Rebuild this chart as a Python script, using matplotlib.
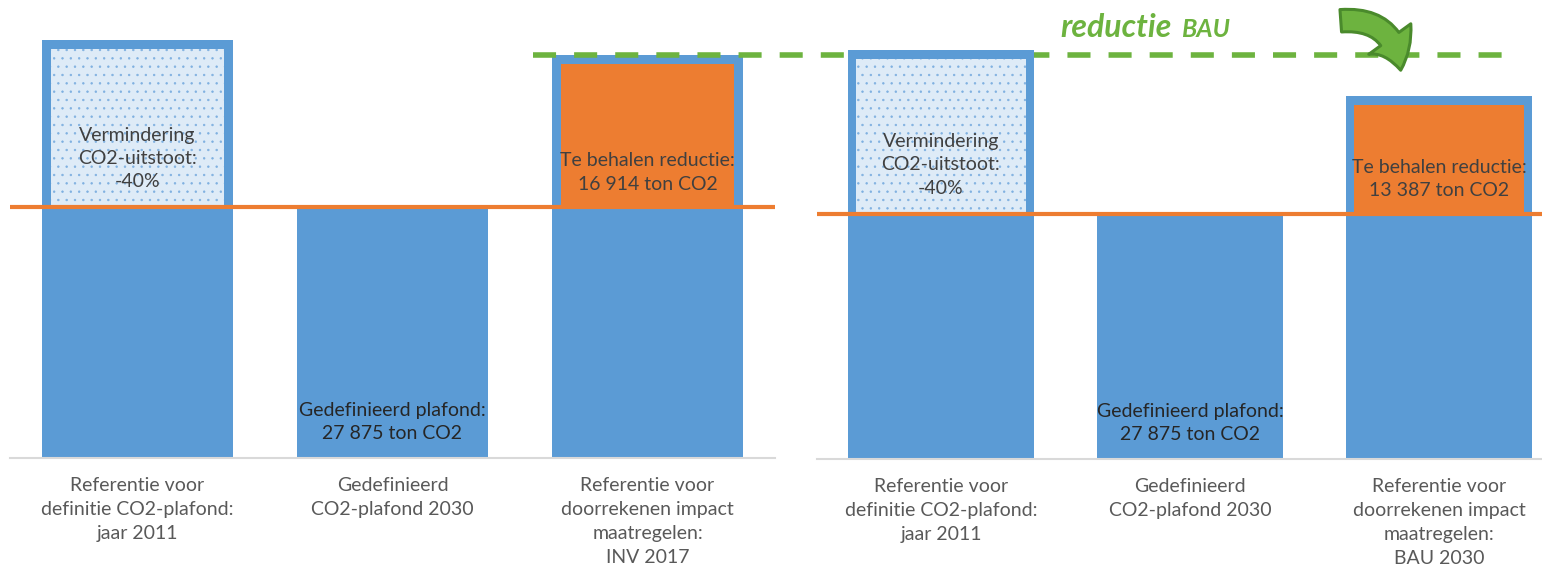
import matplotlib.pyplot as plt
from matplotlib.patches import FancyArrowPatch

# emissions in ton CO2
plafond = 27875
reductie_inv = 16914
reductie_bau = 13387
ref_2011 = plafond / 0.6          # plafond = -40% t.o.v. 2011
inv_2017 = plafond + reductie_inv
bau_2030 = plafond + reductie_bau

labels_inv = ['Referentie voor\ndefinitie CO2-plafond:\njaar 2011',
              'Gedefinieerd\nCO2-plafond 2030',
              'Referentie voor\ndoorrekenen impact\nmaatregelen:\nINV 2017']
labels_bau = ['Referentie voor\ndefinitie CO2-plafond:\njaar 2011',
              'Gedefinieerd\nCO2-plafond 2030',
              'Referentie voor\ndoorrekenen impact\nmaatregelen:\nBAU 2030']
totals_inv = [ref_2011, plafond, inv_2017]
totals_bau = [ref_2011, plafond, bau_2030]

blue = '#5B9BD5'
orange = '#ED7D31'
light = '#DEEBF7'
green = '#6DB33F'
dkgreen = '#4A8A2C'

plt.rcParams['font.family'] = ['Lato', 'DejaVu Sans']
plt.rcParams['hatch.linewidth'] = 0.5

W, H = 1542, 569
fig = plt.figure(figsize=(W / 100, H / 100), dpi=100)

ax1 = fig.add_axes([10 / W, 111 / H, 765 / W, 458 / H])
ax2 = fig.add_axes([816.5 / W, 110 / H, 747 / W, 459 / H])


def panel(ax, totals, labels, ymax, fill_colors, fill_hatches, red_text):
    x = range(len(totals))
    ax.set_ylim(0, ymax)
    ax.set_xlim(-0.5, 2.5)
    bw = 0.75
    # lower part: the plafond
    ax.bar(x, [plafond] * 3, width=bw, color=blue, zorder=2)
    # upper part: the reduction, blue frame with inner fill
    ax_h = ax.get_position().height * H
    inset_y = 9 * ymax / ax_h
    for i, tot in enumerate(totals):
        if tot <= plafond:
            continue
        ax.bar(i, tot - plafond, bottom=plafond, width=bw, color=blue, zorder=2)
        ax.bar(i, tot - plafond - inset_y, bottom=plafond, width=bw - 0.07,
               facecolor=fill_colors[i], edgecolor='#7FB0E0', linewidth=0,
               hatch=fill_hatches[i], zorder=3)
    ax.axhline(plafond, color=orange, lw=3, zorder=4)

    txt = dict(ha='center', va='center', fontsize=14, linespacing=1.45,
               textcoords='offset points', zorder=5)
    ax.annotate('Vermindering\nCO2-uitstoot:\n-40%', xy=(0, plafond),
                xytext=(0, 35), color='#404040', **txt)
    ax.annotate(red_text, xy=(2, plafond), xytext=(0, 25),
                color='#404040', **txt)
    ax.annotate('Gedefinieerd plafond:\n27 875 ton CO2', xy=(1, 0),
                xytext=(0, 26), color='#262626', **txt)

    ax.set_xticks(list(x))
    ax.set_xticklabels(labels, fontsize=14, color='#595959', linespacing=1.5)
    ax.tick_params(axis='x', length=0, pad=14)
    ax.set_yticks([])
    for s in ['top', 'left', 'right']:
        ax.spines[s].set_visible(False)
    ax.spines['bottom'].set_color('#D9D9D9')
    ax.spines['bottom'].set_linewidth(1.5)
    ax.patch.set_alpha(0)


panel(ax1, totals_inv, labels_inv, ref_2011 * 458 / 418,
      [light, blue, orange], ['..', None, None],
      'Te behalen reductie:\n16 914 ton CO2')
panel(ax2, totals_bau, labels_bau, ref_2011 * 459 / 409,
      [light, blue, orange], ['..', None, None],
      'Te behalen reductie:\n13 387 ton CO2')

# INV 2017 level carried over to the right panel
lw = 4
ax1.plot([1.55, 5.40], [inv_2017, inv_2017], color=green, lw=lw,
         linestyle=(0, (16.6 / lw, 13 / lw)), clip_on=False, zorder=6)

t = fig.text(1060 / W, 1 - 37 / H, 'reductie', color=green, fontsize=23,
             fontweight='bold', fontstyle='italic', ha='left', va='baseline')
ax1.annotate('BAU', xy=(1, 0), xycoords=t, xytext=(7, 1),
             textcoords='offset points', color=green, fontsize=18,
             fontweight='bold', fontstyle='italic', ha='left', va='bottom',
             annotation_clip=False)

arrow = FancyArrowPatch((1338 / W, 1 - 21 / H), (1401 / W, 1 - 73 / H),
                        transform=fig.transFigure,
                        connectionstyle='arc3,rad=-0.5',
                        arrowstyle='simple,head_width=2.2,head_length=1.4,tail_width=0.95',
                        mutation_scale=17, facecolor=green, edgecolor=dkgreen,
                        linewidth=2.2, zorder=7)
fig.add_artist(arrow)

fig.savefig('out.png', dpi=100)
